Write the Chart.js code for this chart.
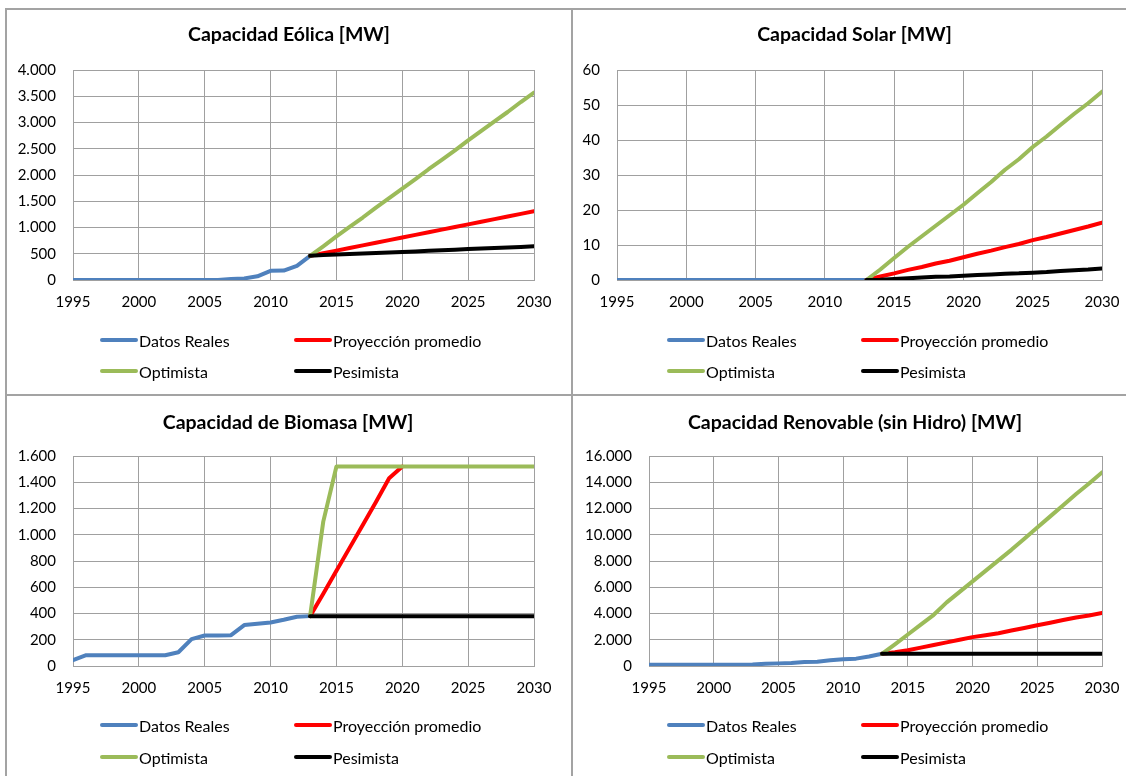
<!DOCTYPE html>
<html>
<head>
<meta charset="utf-8">
<script src="https://cdn.jsdelivr.net/npm/chart.js@4.4.1/dist/chart.umd.min.js"></script>
<style>
  body { margin: 0; background: #fff; overflow: hidden; }
  #page { position: relative; width: 1126px; height: 776px; overflow: hidden; background: #fff; }
  .panel { position: absolute; }
  .panel canvas { position: absolute; left: 0; top: 0; }
  .rule { position: absolute; background: #a3a3a3; }
  .leg { position: absolute; height: 20px; line-height: 20px; display: flex; align-items: center;
         font: 16px Lato, sans-serif; color: #000; white-space: nowrap; }
  .leg i { display: inline-block; width: 38px; height: 4px; border-radius: 2px; margin-right: 1px; }
</style>
</head>
<body>
<div id="page">
  <div class="panel" style="left:0;top:0;width:573px;height:395px">
    <canvas id="eolica" width="573" height="395"></canvas><div id="eolicaLeg"></div>
  </div>
  <div class="panel" style="left:573px;top:0;width:563px;height:395px">
    <canvas id="solar" width="563" height="395"></canvas><div id="solarLeg"></div>
  </div>
  <div class="panel" style="left:0;top:395px;width:573px;height:381px">
    <canvas id="biomasa" width="573" height="381"></canvas><div id="biomasaLeg"></div>
  </div>
  <div class="panel" style="left:573px;top:395px;width:563px;height:381px">
    <canvas id="renovable" width="563" height="381"></canvas><div id="renovableLeg"></div>
  </div>
  <div class="rule" style="left:5px;top:8px;width:1130px;height:2px"></div>
  <div class="rule" style="left:5px;top:8px;width:2px;height:780px"></div>
  <div class="rule" style="left:571px;top:8px;width:2px;height:780px"></div>
  <div class="rule" style="left:5px;top:394px;width:1130px;height:2px"></div>
</div>
<script>
// años
var realYears = [1995, 1996, 1997, 1998, 1999, 2000, 2001, 2002, 2003, 2004,
                 2005, 2006, 2007, 2008, 2009, 2010, 2011, 2012, 2013];
var projYears = [2013, 2014, 2015, 2016, 2017, 2018, 2019, 2020, 2021,
                 2022, 2023, 2024, 2025, 2026, 2027, 2028, 2029, 2030];

var seriesNames = ['Datos Reales', 'Proyección promedio', 'Optimista', 'Pesimista'];
var seriesColors = ['#4F81BD', '#FF0000', '#9BBB59', '#000000'];

// Eólica [MW]
var eolicaReal = [0, 0, 0, 0, 0, 0, 0, 0, 0, 0, 0, 2, 18, 30, 70, 175, 180, 270, 460];
var eolicaProm = [460, 510, 560, 610, 660, 710, 760, 810, 860, 910, 960, 1010, 1060, 1110, 1160, 1210, 1260, 1310];
var eolicaOpt = [460, 640, 830, 1010, 1190, 1380, 1560, 1740, 1920, 2110, 2290, 2470, 2660, 2840, 3020, 3200, 3390, 3570];
var eolicaPes = [460, 475, 485, 495, 505, 515, 525, 535, 545, 555, 565, 575, 590, 600, 610, 620, 630, 645];

// Solar [MW]
var solarReal = [0, 0, 0, 0, 0, 0, 0, 0, 0, 0, 0, 0, 0, 0, 0, 0, 0, 0, 0];
var solarProm = [0, 1, 1.9, 2.9, 3.7, 4.7, 5.5, 6.5, 7.5, 8.4, 9.4, 10.3, 11.4, 12.3, 13.3, 14.3, 15.3, 16.4];
var solarOpt = [0, 3, 6.3, 9.5, 12.5, 15.5, 18.5, 21.5, 24.8, 28, 31.5, 34.5, 38, 41, 44.3, 47.5, 50.5, 53.8];
var solarPes = [0, 0.1, 0.3, 0.5, 0.7, 0.9, 1, 1.2, 1.4, 1.6, 1.8, 1.9, 2.1, 2.3, 2.6, 2.8, 3, 3.3];

// Biomasa [MW]
var biomasaReal = [45, 82, 82, 82, 82, 82, 82, 82, 105, 205, 232, 233, 235, 312, 322, 332, 352, 375, 380];
var biomasaProm = [380, 550, 725, 900, 1075, 1250, 1430, 1520];
var biomasaOpt = [380, 1100, 1520, 1520, 1520, 1520, 1520, 1520, 1520, 1520, 1520, 1520, 1520, 1520, 1520, 1520, 1520, 1520];
var biomasaPes = [380, 380, 380, 380, 380, 380, 380, 380, 380, 380, 380, 380, 380, 380, 380, 380, 380, 380];

// Renovable sin hidro [MW]
var renovReal = [100, 100, 100, 100, 100, 100, 100, 100, 110, 170, 200, 230, 300, 330, 430, 520, 560, 720, 930];
var renovProm = [930, 1050, 1200, 1400, 1600, 1800, 2000, 2200, 2350, 2500, 2700, 2900, 3100, 3300, 3500, 3700, 3850, 4050];
var renovOpt = [930, 1650, 2400, 3150, 3900, 4850, 5650, 6450, 7250, 8050, 8850, 9700, 10550, 11400, 12250, 13100, 13900, 14750];
var renovPes = [930, 930, 930, 930, 930, 930, 930, 930, 930, 930, 930, 930, 930, 930, 930, 930, 930, 930];

var GRID = '#a0a0a0';
Chart.defaults.font.family = 'Lato, sans-serif';
Chart.defaults.color = '#000';

// título centrado sobre el panel, no sobre el área del gráfico
var panelTitle = {
    id: 'panelTitle',
    afterDraw: function (chart, args, opts) {
        var ctx = chart.ctx;
        ctx.save();
        ctx.font = 'bold 19.5px Lato, sans-serif';
        ctx.fillStyle = '#000';
        ctx.textAlign = 'center';
        ctx.textBaseline = 'middle';
        ctx.fillText(opts.text, opts.x, opts.y);
        ctx.restore();
    }
};

function pts(xs, ys) {
    return ys.map(function (y, i) { return {x: xs[i], y: y}; });
}

function miles(v) {
    return String(v).replace(/\B(?=(\d{3})+(?!\d))/g, '.');
}

function htmlLegend(chart, el, box) {
    chart.data.datasets.forEach(function (ds, i) {
        var item = document.createElement('div');
        item.className = 'leg';
        item.style.left = (box.legX + (i % 2) * 194) + 'px';
        item.style.top = (box.legY[Math.floor(i / 2)] - 10) + 'px';
        var sw = document.createElement('i');
        sw.style.background = ds.borderColor;
        item.appendChild(sw);
        item.appendChild(document.createTextNode(ds.label));
        el.appendChild(item);
    });
}

function capacityChart(id, title, yMax, yStep, values, box) {
    var canvas = document.getElementById(id);
    var W = canvas.width, H = canvas.height;
    var datasets = values.map(function (v, i) {
        return {
            label: seriesNames[i],
            data: pts(i === 0 ? realYears : projYears, v),
            borderColor: seriesColors[i],
            backgroundColor: seriesColors[i],
            borderWidth: 4,
            pointRadius: 0,
            tension: 0,
            borderJoinStyle: 'round',
            borderCapStyle: 'round',
            order: 4 - i
        };
    });
    var chart = new Chart(canvas, {
        type: 'line',
        data: {datasets: datasets},
        plugins: [panelTitle],
        options: {
            responsive: false,
            animation: false,
            layout: {padding: {left: 0, right: W - box.right, top: box.top, bottom: 0}},
            plugins: {
                legend: {display: false},
                tooltip: {enabled: false},
                panelTitle: {text: title, x: box.titleX, y: box.titleY}
            },
            scales: {
                x: {
                    type: 'linear',
                    min: 1995,
                    max: 2030,
                    grid: {color: GRID, drawTicks: false},
                    border: {color: GRID},
                    ticks: {
                        stepSize: 5, padding: 13, maxRotation: 0, autoSkip: false,
                        font: {size: 15}, color: '#000',
                        callback: function (v) { return String(v); }
                    },
                    afterFit: function (s) { s.height = H - box.bottom; }
                },
                y: {
                    min: 0,
                    max: yMax,
                    grid: {color: GRID, drawTicks: false},
                    border: {color: GRID},
                    ticks: {
                        stepSize: yStep, padding: 17,
                        font: {size: 15}, color: '#000',
                        callback: function (v) { return miles(v); }
                    },
                    afterFit: function (s) { s.width = box.left; }
                }
            }
        }
    });
    htmlLegend(chart, document.getElementById(id + 'Leg'), box);
    return chart;
}

capacityChart('eolica', 'Capacidad Eólica [MW]', 4000, 500,
    [eolicaReal, eolicaProm, eolicaOpt, eolicaPes],
    {left: 73, right: 534, top: 70, bottom: 280, titleX: 289, titleY: 35, legX: 100, legY: [340, 371]});

capacityChart('solar', 'Capacidad Solar [MW]', 60, 10,
    [solarReal, solarProm, solarOpt, solarPes],
    {left: 44, right: 529, top: 70, bottom: 280, titleX: 281.5, titleY: 35, legX: 94, legY: [340, 371]});

capacityChart('biomasa', 'Capacidad de Biomasa [MW]', 1600, 200,
    [biomasaReal, biomasaProm, biomasaOpt, biomasaPes],
    {left: 73, right: 534, top: 61, bottom: 271, titleX: 288, titleY: 28, legX: 100, legY: [330, 362]});

capacityChart('renovable', 'Capacidad Renovable (sin Hidro) [MW]', 16000, 2000,
    [renovReal, renovProm, renovOpt, renovPes],
    {left: 76, right: 529, top: 61, bottom: 271, titleX: 282, titleY: 28, legX: 94, legY: [330, 362]});
</script>
</body>
</html>
